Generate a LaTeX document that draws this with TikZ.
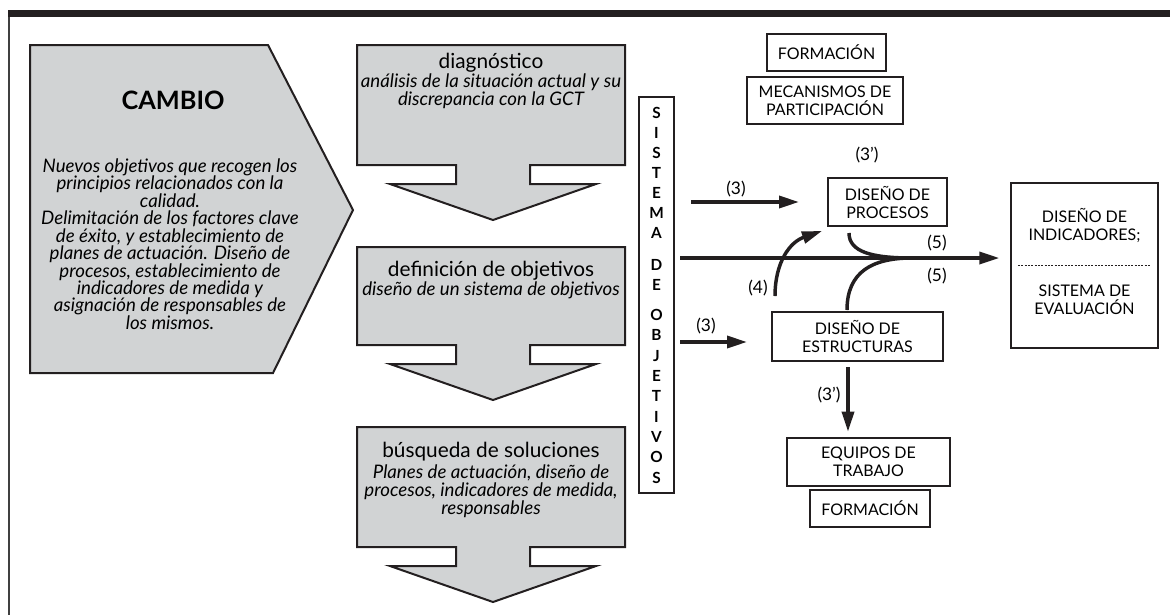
\documentclass[tikz,border=0pt]{standalone}
\usepackage{fontspec}
\setmainfont{Lato}
\usetikzlibrary{arrows.meta}
\definecolor{boxgray}{RGB}{209,211,212}
\definecolor{inkblack}{RGB}{35,31,32}

\begin{document}
\begin{tikzpicture}[x=0.75pt, y=-0.75pt, font=\fontsize{12}{13.5}\selectfont,
  graybox/.style={draw=inkblack, line width=1.5pt, fill=boxgray},
  plainbox/.style={draw=inkblack, line width=1.5pt, align=center, inner sep=0pt},
  arr/.style={inkblack, line width=2.6pt, -{Triangle[length=15pt,width=9pt]}},
  link/.style={inkblack, line width=2.6pt},
  bodytxt/.style={font=\itshape\fontsize{14}{13.6}\selectfont, align=center},
  titletxt/.style={font=\fontsize{15.6}{17}\selectfont},
  numlbl/.style={font=\fontsize{13}{14}\selectfont}]
  \useasboundingbox (0,0) rectangle (1170,615);

  % page frame
  \fill[inkblack] (8,10) rectangle (1170,17);
  \draw[black!75, line width=1.5pt] (9,17) -- (9,615);

  % change pentagon
  \draw[graybox] (30,45) -- (268,45) -- (353,210) -- (273,373) -- (30,373) -- cycle;
  \node[font=\bfseries\fontsize{19}{20}\selectfont] (cambio) at (173,100) {CAMBIO};
  \node[bodytxt, font=\itshape\fontsize{14}{13.1}\selectfont] (cambiotxt) at (170,244)
    {Nuevos objetivos que recogen los\\ principios relacionados con la\\ calidad.\\
     Delimitación de los factores clave\\ de éxito, y establecimiento de\\
     planes de actuación. Diseño de\\ procesos, establecimiento de\\
     indicadores de medida y\\ asignación de responsables de\\ los mismos.};

  % phase boxes, each with its down arrow
  \foreach \t/\b in {45/165, 247/345, 427/547}
    \draw[graybox] (357,\t) -- (625,\t) -- (625,\b) -- (530,\b) -- (530,\b+19)
      -- (596,\b+19) -- (493,\b+55) -- (390,\b+19) -- (456,\b+19) -- (456,\b)
      -- (357,\b) -- cycle;

  \node[titletxt] (diag) at (491,63) {diagnóstico};
  \node[bodytxt] (diagtxt) at (491,91) {análisis de la situación actual y su\\ discrepancia con la GCT};
  \node[titletxt] (defobj) at (491,271) {definición de objetivos};
  \node[bodytxt] (defobjtxt) at (491,290) {diseño de un sistema de objetivos};
  \node[titletxt] (busq) at (491,452) {búsqueda de soluciones};
  \node[bodytxt] (busqtxt) at (491,491) {Planes de actuación, diseño de\\ procesos, indicadores de medida,\\ responsables};

  % objectives column, one letter at a time
  \node[plainbox, minimum width=26.25pt, minimum height=297pt] (sistema) at (656.5,295) {};
  \foreach \ch/\yy in {S/113, I/133, S/153, T/173, E/193, M/213, A/233,
                       D/265, E/285,
                       O/315, B/335, J/356, E/376, T/396, I/417, V/437, O/457, S/478}
    \node[font=\bfseries\fontsize{11.5}{12}\selectfont, inner sep=0pt] at (656.5,\yy) {\ch};

  % design boxes
  \node[plainbox, minimum width=89.25pt, minimum height=27.75pt] (formtop) at (826.5,52.5) {FORMACIÓN};
  \node[plainbox, minimum width=117pt, minimum height=35.25pt] (mecan) at (825,100.5) {MECANISMOS DE\\ PARTICIPACIÓN};
  \node[plainbox, minimum width=89.25pt, minimum height=36pt] (procesos) at (887.5,202) {DISEÑO DE\\ PROCESOS};
  \node[plainbox, minimum width=128.25pt, minimum height=36.75pt] (estruct) at (857.5,336.5) {DISEÑO DE\\ ESTRUCTURAS};
  \node[plainbox, minimum width=122.25pt, minimum height=36pt] (equipos) at (868.5,462) {EQUIPOS DE\\ TRABAJO};
  \node[plainbox, minimum width=90pt, minimum height=27.75pt] (formbot) at (870,508.5) {FORMACIÓN};
  \node[plainbox, minimum width=110.25pt, minimum height=123.75pt] (indic) at (1084.5,265.5) {};
  \node[align=center] (indictxt) at (1084.5,226) {DISEÑO DE\\ INDICADORES;};
  \node[align=center] (evaltxt) at (1084.5,300) {SISTEMA DE\\ EVALUACIÓN};
  \draw[inkblack, line width=0.8pt, dash pattern=on 1.5pt off 1pt]
    ([xshift=6pt]indic.west) -- ([xshift=-6pt]indic.east);

  % connectors
  \coordinate (s3top) at (691,202);
  \coordinate (s3bot) at (680,342);
  \coordinate (smain) at (680,258);
  \coordinate (e3) at (848,367);
  \coordinate (p5) at (849,233);
  \coordinate (e5) at (847,310);
  \coordinate (join5) at (912,258);
  \coordinate (s4) at (775,296);
  \coordinate (t4) at (822,231);

  \draw[arr, shorten >=21pt] (s3top) -- (procesos.west);
  \draw[arr, shorten >=18pt] (s3bot) -- (s3bot -| estruct.west);
  \draw[arr, shorten >=8pt] (smain) -- (smain -| indic.west);
  \draw[arr, shorten >=4pt] (e3) -- (e3 |- equipos.north);
  \draw[link] (p5) .. controls (849,252) and (872,258) .. (join5);
  \draw[link] (e5) .. controls (847,272) and (872,258) .. (join5);
  \draw[arr] (s4) .. controls (775,262) and (790,242) .. (t4);

  % labels
  \node[numlbl] (l3top) at (736,189) {(3)};
  \node[numlbl] (l3ptop) at (867,155) {(3’)};
  \node[numlbl] (l5top) at (937,243) {(5)};
  \node[numlbl] (l5bot) at (937,276) {(5)};
  \node[numlbl] (l4) at (758,288) {(4)};
  \node[numlbl] (l3bot) at (706,326) {(3)};
  \node[numlbl] (l3pbot) at (829,395) {(3’)};
\end{tikzpicture}
\end{document}
